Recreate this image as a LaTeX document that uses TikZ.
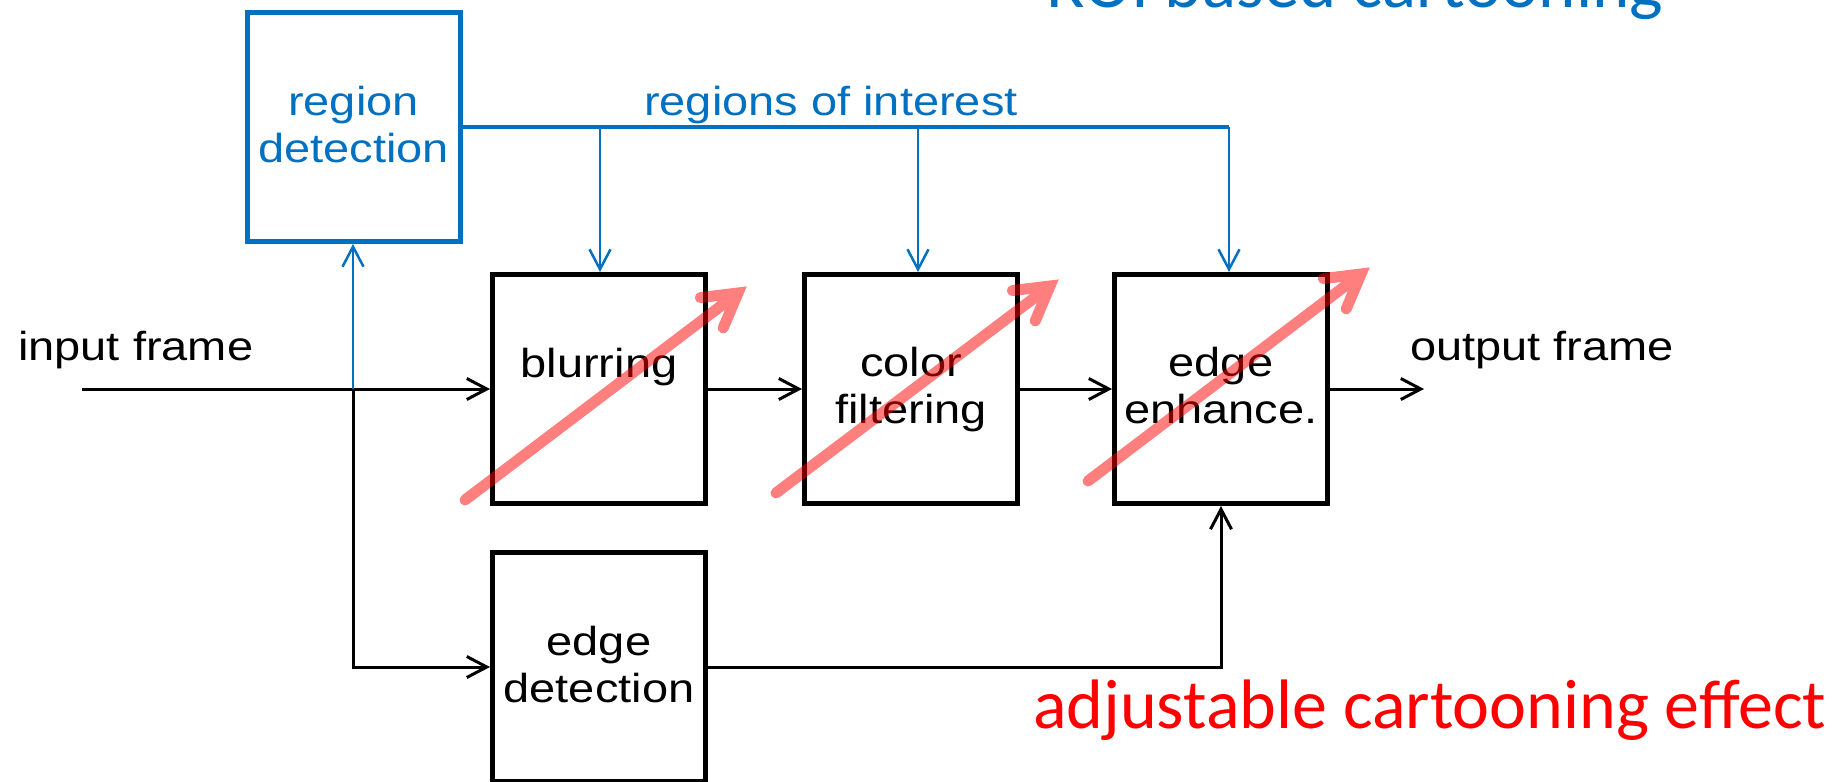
\documentclass[tikz,border=0pt]{standalone}
\usepackage{fontspec}
\setmainfont{Liberation Sans}
\newfontfamily\diafont[FakeStretch=1.16]{Liberation Sans}
\newfontfamily\calfont{Carlito}
\usetikzlibrary{arrows.meta}
\definecolor{roiblue}{RGB}{0,112,192}
\definecolor{effred}{RGB}{255,0,0}
\begin{document}
\begin{tikzpicture}[x=1pt,y=-1pt,
  box/.style={draw=black, line width=5pt, minimum width=213pt, minimum height=229pt, inner sep=0pt},
  bluebox/.style={box, draw=roiblue},
  lbl/.style={font=\diafont\fontsize{40.5pt}{47pt}\selectfont, inner sep=0pt, anchor=base},
  conn/.style={line width=3pt, -{Straight Barb[length=20pt,width=21pt]}},
  bus/.style={draw=roiblue, line width=3.5pt},
  drop/.style={draw=roiblue, line width=2.5pt, -{Straight Barb[length=20pt,width=21pt]}},
  bigtxt/.style={font=\calfont\fontsize{70pt}{80pt}\selectfont, inner sep=0pt, anchor=base west},
  redarrow/.style={draw=effred, draw opacity=0.5, line width=11pt, line cap=round, line join=miter}
]
\useasboundingbox (0,0) rectangle (1848,782);

% boxes
\node[bluebox] (rd) at (353.5,127) {};
\node[box] (blur) at (599,389) {};
\node[box] (colf) at (911,389) {};
\node[box] (enh) at (1221,389) {};
\node[box] (ed) at (599,667) {};

% box texts
\node[lbl, text=roiblue] (rdt1) at (353.5,115) {region};
\node[lbl, text=roiblue] (rdt2) at (353.5,162) {detection};
\node[lbl] (blurt) at (599,377) {blurring};
\node[lbl] (colt1) at (911,376) {color};
\node[lbl] (colt2) at (911,423) {filtering};
\node[lbl] (enht1) at (1221,376) {edge};
\node[lbl] (enht2) at (1221,423) {enhance.};
\node[lbl] (edt1) at (599,655) {edge};
\node[lbl] (edt2) at (599,702) {detection};

% free labels
\node[lbl, anchor=base west] (inl) at (18,360) {input frame};
\node[lbl, anchor=base west] (outl) at (1410,360) {output frame};
\node[lbl, anchor=base west, text=roiblue] (roil) at (644,115) {regions of interest};
\node[bigtxt, text=roiblue, font=\calfont\fontsize{71pt}{80pt}\selectfont] (title) at (1046,7) {ROI based cartooning};
\node[bigtxt, text=effred] (eff) at (1033,728) {adjustable cartooning effect};

% coordinates
\coordinate (in) at (82,389);
\coordinate (j) at (353,389);
\coordinate (out) at (1424,389);
\coordinate (d1) at (600,127);
\coordinate (d2) at (918,127);
\coordinate (d3) at (1229,127);

% connectors
\draw[conn] (in) -- (blur.west);
\draw[conn] (blur.east) -- (colf.west);
\draw[conn] (colf.east) -- (enh.west);
\draw[conn] (enh.east) -- (out);
\draw[conn] (j) |- (ed.west);
\draw[conn] (ed.east) -| (enh.south);
\draw[conn, draw=roiblue, line width=2.5pt] (j) -- (j |- rd.south);

% regions of interest bus
\draw[bus] (rd.east) -- (d3);
\draw[drop] (d1) -- (d1 |- blur.north);
\draw[drop] (d2) -- (d2 |- colf.north);
\draw[drop] (d3) -- (d3 |- enh.north);

% adjustable effect arrows
\coordinate (a1t) at (465,500);
\coordinate (a1h) at (738,293);
\coordinate (a2t) at (776,493);
\coordinate (a2h) at (1050,286);
\coordinate (a3t) at (1088,481);
\coordinate (a3h) at (1361,274);
\draw[redarrow] (a1t) -- (a1h) ([shift={(-37.7,4.6)}]a1h) -- (a1h) -- ([shift={(-14.8,35)}]a1h);
\draw[redarrow] (a2t) -- (a2h) ([shift={(-37.7,4.6)}]a2h) -- (a2h) -- ([shift={(-14.8,35)}]a2h);
\draw[redarrow] (a3t) -- (a3h) ([shift={(-37.7,4.6)}]a3h) -- (a3h) -- ([shift={(-14.8,35)}]a3h);
\end{tikzpicture}
\end{document}
